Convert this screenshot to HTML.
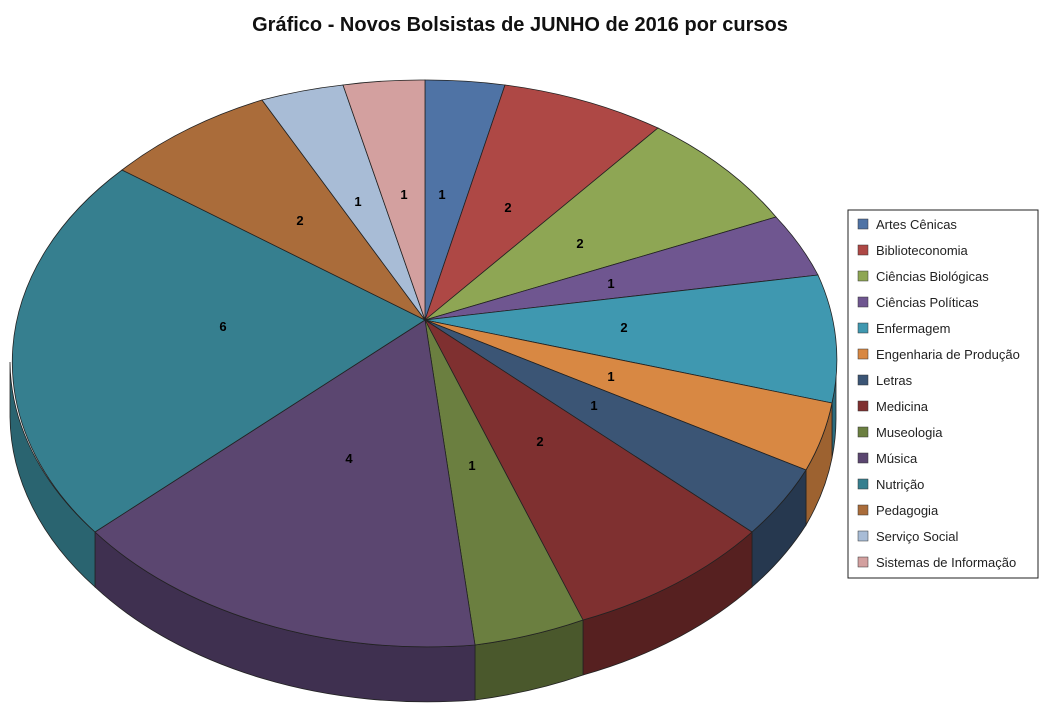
<!DOCTYPE html>
<html><head><meta charset="utf-8"><style>
body{margin:0;background:#fff;}
svg{display:block;font-family:"Liberation Sans",sans-serif;}
</style></head><body>
<svg width="1042" height="726" viewBox="0 0 1042 726">
<text x="520" y="31" text-anchor="middle" font-size="20" font-weight="bold" fill="#111">Gráfico - Novos Bolsistas de JUNHO de 2016 por cursos</text>
<g stroke="#222" stroke-width="0.8">
<!-- sides -->
<path d="M836,362 A413,283 0 0 1 832,403 L832,458 A413,283 0 0 0 836,417 Z" fill="#2c6c7d"/>
<path d="M832,403 A413,283 0 0 1 806,470 L806,525 A413,283 0 0 0 832,458 Z" fill="#9d6230"/>
<path d="M806,470 A413,283 0 0 1 752,532 L752,587 A413,283 0 0 0 806,525 Z" fill="#26384f"/>
<path d="M752,532 A413,283 0 0 1 583,620 L583,675 A413,283 0 0 0 752,587 Z" fill="#562020"/>
<path d="M583,620 A413,283 0 0 1 475,645 L475,700 A413,283 0 0 0 583,675 Z" fill="#4a582c"/>
<path d="M475,645 A413,283 0 0 1 95,532 L95,587 A413,283 0 0 0 475,700 Z" fill="#3f3050"/>
<path d="M95,532 A413,283 0 0 1 10,362 L10,417 A413,283 0 0 0 95,587 Z" fill="#2a6470"/>
<!-- top -->
<path d="M425,320 L425,80 A413,283 0 0 1 505,85 Z" fill="#4f73a5"/>
<path d="M425,320 L505,85 A413,283 0 0 1 658,128 Z" fill="#ae4845"/>
<path d="M425,320 L658,128 A413,283 0 0 1 776,217 Z" fill="#8ea654"/>
<path d="M425,320 L776,217 A413,283 0 0 1 818,275 Z" fill="#6f5690"/>
<path d="M425,320 L818,275 A413,283 0 0 1 832,403 Z" fill="#3f98b0"/>
<path d="M425,320 L832,403 A413,283 0 0 1 806,470 Z" fill="#d88843"/>
<path d="M425,320 L806,470 A413,283 0 0 1 752,532 Z" fill="#3b5575"/>
<path d="M425,320 L752,532 A413,283 0 0 1 583,620 Z" fill="#7f3030"/>
<path d="M425,320 L583,620 A413,283 0 0 1 475,645 Z" fill="#6b7f40"/>
<path d="M425,320 L475,645 A413,283 0 0 1 95,532 Z" fill="#5b4670"/>
<path d="M425,320 L95,532 A413,283 0 0 1 122,170 Z" fill="#367f8f"/>
<path d="M425,320 L122,170 A413,283 0 0 1 262,100 Z" fill="#aa6c3a"/>
<path d="M425,320 L262,100 A413,283 0 0 1 343,85 Z" fill="#a8bcd6"/>
<path d="M425,320 L343,85 A413,283 0 0 1 425,80 Z" fill="#d3a09f"/>
</g>
<g font-size="13" font-weight="bold" fill="#000" text-anchor="middle">
<text x="442" y="199">1</text><text x="508" y="212">2</text><text x="580" y="248">2</text>
<text x="611" y="288">1</text><text x="624" y="332">2</text><text x="611" y="381">1</text>
<text x="594" y="410">1</text><text x="540" y="446">2</text><text x="472" y="470">1</text>
<text x="349" y="463">4</text><text x="223" y="331">6</text><text x="300" y="225">2</text>
<text x="358" y="206">1</text><text x="404" y="199">1</text>
</g>
<rect x="848" y="210" width="190" height="368" fill="#fff" stroke="#222" stroke-width="1"/>
<g font-size="13" fill="#222">
<rect x="858" y="219" width="10" height="10" fill="#4f73a5" stroke="#333" stroke-width="0.5"/><text x="876" y="229">Artes Cênicas</text>
<rect x="858" y="245" width="10" height="10" fill="#ae4845" stroke="#333" stroke-width="0.5"/><text x="876" y="255">Biblioteconomia</text>
<rect x="858" y="271" width="10" height="10" fill="#8ea654" stroke="#333" stroke-width="0.5"/><text x="876" y="281">Ciências Biológicas</text>
<rect x="858" y="297" width="10" height="10" fill="#6f5690" stroke="#333" stroke-width="0.5"/><text x="876" y="307">Ciências Políticas</text>
<rect x="858" y="323" width="10" height="10" fill="#3f98b0" stroke="#333" stroke-width="0.5"/><text x="876" y="333">Enfermagem</text>
<rect x="858" y="349" width="10" height="10" fill="#d88843" stroke="#333" stroke-width="0.5"/><text x="876" y="359">Engenharia de Produção</text>
<rect x="858" y="375" width="10" height="10" fill="#3b5575" stroke="#333" stroke-width="0.5"/><text x="876" y="385">Letras</text>
<rect x="858" y="401" width="10" height="10" fill="#7f3030" stroke="#333" stroke-width="0.5"/><text x="876" y="411">Medicina</text>
<rect x="858" y="427" width="10" height="10" fill="#6b7f40" stroke="#333" stroke-width="0.5"/><text x="876" y="437">Museologia</text>
<rect x="858" y="453" width="10" height="10" fill="#5b4670" stroke="#333" stroke-width="0.5"/><text x="876" y="463">Música</text>
<rect x="858" y="479" width="10" height="10" fill="#367f8f" stroke="#333" stroke-width="0.5"/><text x="876" y="489">Nutrição</text>
<rect x="858" y="505" width="10" height="10" fill="#aa6c3a" stroke="#333" stroke-width="0.5"/><text x="876" y="515">Pedagogia</text>
<rect x="858" y="531" width="10" height="10" fill="#a8bcd6" stroke="#333" stroke-width="0.5"/><text x="876" y="541">Serviço Social</text>
<rect x="858" y="557" width="10" height="10" fill="#d3a09f" stroke="#333" stroke-width="0.5"/><text x="876" y="567">Sistemas de Informação</text>
</g>
</svg>
</body></html>
